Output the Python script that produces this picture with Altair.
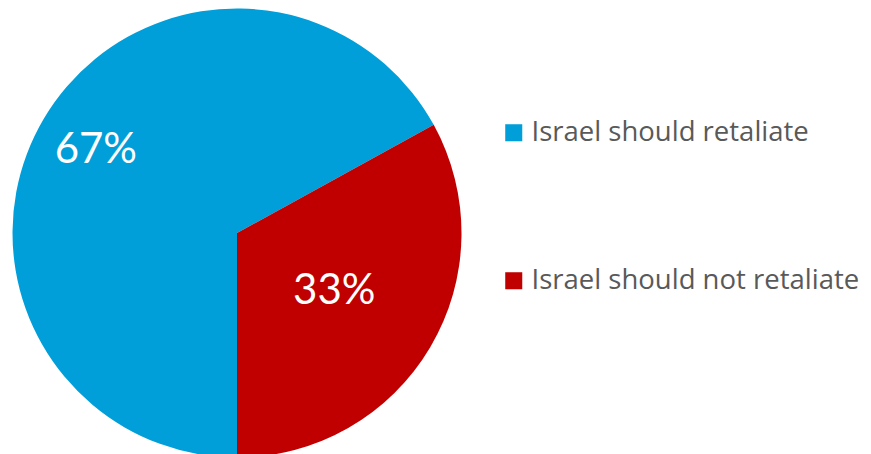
import math
import altair as alt
import pandas as pd

categories = ["Israel should retaliate", "Israel should not retaliate"]
values = [67, 33]
labels = ["67%", "33%"]
colors = ["#009FDA", "#C00000"]

df = pd.DataFrame({"category": categories, "value": values, "label": labels,
                   "order": [0, 1]})

theta = alt.Theta("value:Q", stack=True, scale=alt.Scale(range=[math.pi, 3 * math.pi]))
order = alt.Order("order:Q")

pie = alt.Chart(df).mark_arc(radius=224.5).encode(
    theta=theta,
    order=order,
    color=alt.Color(
        "category:N",
        scale=alt.Scale(domain=categories, range=colors),
        sort=categories,
        legend=alt.Legend(
            title=None,
            orient="none",
            legendX=492,
            legendY=111,
            symbolType="square",
            symbolSize=290,
            symbolStrokeWidth=0,
            labelFontSize=27.5,
            labelFont="Open Sans",
            labelColor="#595959",
            labelOffset=4,
            rowPadding=119,
            labelLimit=500,
        ),
    ),
    x=alt.value(229),
    y=alt.value(225),
)

def label_layer(cat, r):
    return alt.Chart(df).mark_text(
        radius=r, fontSize=42, font="Lato", color="white", align="center", baseline="middle"
    ).encode(
        theta=theta,
        order=order,
        text="label:N",
        x=alt.value(229),
        y=alt.value(225),
        opacity=alt.condition(alt.datum.category == cat, alt.value(1), alt.value(0)),
    )

chart = alt.layer(pie, label_layer(categories[0], 164), label_layer(categories[1], 113)).properties(
    width=855, height=446, padding=0, autosize=alt.AutoSizeParams(type="none")
).configure_view(stroke=None)

chart.save("out.html", embed_options={"renderer": "svg", "actions": False})
